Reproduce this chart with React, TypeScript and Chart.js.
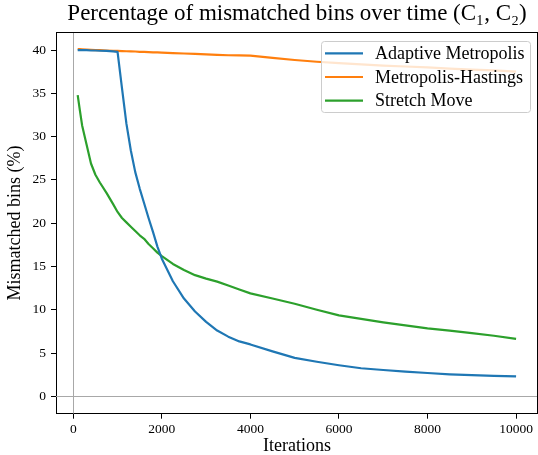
import React, { useEffect, useRef } from "react";
import { Chart, registerables } from "chart.js";

Chart.register(...registerables);

const SERIF = '"Liberation Serif", "Times New Roman", serif';

const titleText = "Percentage of mismatched bins over time (C\u2081, C\u2082)";
const xAxisTitle = "Iterations";
const yAxisTitle = "Mismatched bins (%)";

const iterations = [
  100, 150, 200, 300, 400, 500, 600, 750, 900, 1000,
  1100, 1200, 1300, 1400, 1500, 1600, 1700, 1800, 1900, 2000,
  2250, 2500, 2750, 3000, 3250, 3500, 3750, 4000,
  4500, 5000, 5500, 6000, 6500, 7000, 7500, 8000, 8500, 9000, 9500, 10000,
];

const adaptiveMetropolis = [
  40.0, 40.0, 40.0, 39.98, 39.95, 39.95, 39.92, 39.9, 39.85, 39.8,
  35.6, 31.5, 28.4, 25.9, 24.0, 22.3, 20.6, 19.0, 17.3, 15.9,
  13.3, 11.3, 9.8, 8.6, 7.6, 6.9, 6.35, 6.0,
  5.2, 4.45, 4.0, 3.6, 3.25, 3.05, 2.85, 2.7, 2.55, 2.45, 2.38, 2.3,
];

const metropolisHastings = [
  40.1, 40.1, 40.08, 40.05, 40.03, 40.0, 39.98, 39.95, 39.92, 39.9,
  39.88, 39.86, 39.85, 39.83, 39.8, 39.78, 39.76, 39.74, 39.72, 39.7,
  39.65, 39.6, 39.55, 39.5, 39.45, 39.4, 39.38, 39.35,
  39.1, 38.85, 38.65, 38.5, 38.35, 38.2, 38.1, 38.0, 37.85, 37.75, 37.65, 37.5,
];

const stretchMove = [
  34.8, 33.0, 31.3, 29.1, 26.9, 25.6, 24.7, 23.5, 22.2, 21.3,
  20.6, 20.1, 19.6, 19.1, 18.6, 18.2, 17.6, 17.1, 16.6, 16.2,
  15.3, 14.6, 14.0, 13.6, 13.25, 12.8, 12.35, 11.9,
  11.3, 10.7, 10.0, 9.35, 8.95, 8.55, 8.2, 7.85, 7.6, 7.3, 7.0, 6.65,
];

const seriesLabels = ["Adaptive Metropolis", "Metropolis-Hastings", "Stretch Move"];
const seriesColors = ["#1f77b4", "#ff7f0e", "#2ca02c"];

const xTicks = [0, 2000, 4000, 6000, 8000, 10000];
const yTicks = [0, 5, 10, 15, 20, 25, 30, 35, 40];

const X_MIN = -390;
const X_MAX = 10495;
const Y_MIN = -2.0;
const Y_MAX = 42.05;

const framePlugin = {
  id: "frame",
  beforeDatasetsDraw(chart: any) {
    const { ctx, chartArea, scales } = chart;
    ctx.save();
    ctx.beginPath();
    ctx.rect(chartArea.left, chartArea.top, chartArea.right - chartArea.left, chartArea.bottom - chartArea.top);
    ctx.clip();
    ctx.strokeStyle = "#a8a8a8";
    ctx.lineWidth = 1;
    const x0 = Math.round(scales.x.getPixelForValue(0)) + 0.5;
    const y0 = Math.round(scales.y.getPixelForValue(0)) + 0.5;
    ctx.beginPath();
    ctx.moveTo(x0, chartArea.top);
    ctx.lineTo(x0, chartArea.bottom);
    ctx.moveTo(chartArea.left, y0);
    ctx.lineTo(chartArea.right, y0);
    ctx.stroke();
    ctx.restore();
  },
  afterDatasetsDraw(chart: any) {
    const { ctx, chartArea } = chart;
    ctx.save();
    ctx.strokeStyle = "#000";
    ctx.lineWidth = 1;
    const top = Math.round(chartArea.top) + 0.5;
    const right = Math.round(chartArea.right) - 0.5;
    ctx.beginPath();
    ctx.moveTo(chartArea.left, top);
    ctx.lineTo(chartArea.right, top);
    ctx.moveTo(right, chartArea.top);
    ctx.lineTo(right, chartArea.bottom);
    ctx.stroke();
    ctx.restore();
  },
};

const legendPlugin = {
  id: "boxLegend",
  afterDraw(chart: any) {
    const { ctx } = chart;
    ctx.save();
    const bx = 321.5, by = 41.5, bw = 209, bh = 71;
    ctx.beginPath();
    ctx.roundRect(bx, by, bw, bh, 3);
    ctx.fillStyle = "rgba(255,255,255,0.8)";
    ctx.fill();
    ctx.strokeStyle = "#cccccc";
    ctx.lineWidth = 1;
    ctx.stroke();
    chart.data.datasets.forEach((ds: any, i: number) => {
      const y = 53.3 + i * 23.7;
      ctx.strokeStyle = ds.borderColor;
      ctx.lineWidth = 2.2;
      ctx.beginPath();
      ctx.moveTo(325, y);
      ctx.lineTo(363, y);
      ctx.stroke();
      ctx.fillStyle = "#000";
      ctx.font = `18px ${SERIF}`;
      ctx.textBaseline = "middle";
      ctx.textAlign = "left";
      ctx.fillText(ds.label, 375, y + 1);
    });
    ctx.restore();
  },
};

export default function App() {
  const ref = useRef<HTMLCanvasElement>(null);

  useEffect(() => {
    const canvas = ref.current;
    if (!canvas) return;
    const values = [adaptiveMetropolis, metropolisHastings, stretchMove];
    const datasets = values.map((vals, i) => ({
      label: seriesLabels[i],
      data: iterations.map((x, j) => ({ x, y: vals[j] })),
      borderColor: seriesColors[i],
      backgroundColor: seriesColors[i],
      borderWidth: 2.2,
      pointRadius: 0,
      pointHoverRadius: 0,
      tension: 0,
      fill: false,
      borderJoinStyle: "round" as const,
    }));

    const tickFont = { family: SERIF, size: 13.5 };
    const axisTitleFont = { family: SERIF, size: 18, lineHeight: 1 };

    const chart = new Chart(canvas, {
      type: "line",
      data: { datasets },
      options: {
        animation: false,
        responsive: false,
        maintainAspectRatio: false,
        events: [],
        layout: { padding: { left: 0, right: 0, top: 0, bottom: 0 } },
        plugins: {
          legend: { display: false },
          tooltip: { enabled: false },
          title: {
            display: true,
            text: titleText,
            fullSize: false,
            color: "#000",
            font: { family: SERIF, size: 23, weight: "normal", lineHeight: 1.2 },
            padding: { top: 0, bottom: 4.7 },
          },
        },
        scales: {
          x: {
            type: "linear",
            min: X_MIN,
            max: X_MAX,
            afterBuildTicks: (s: any) => {
              s.ticks = xTicks.map((v) => ({ value: v }));
            },
            afterFit: (s: any) => {
              s.height = 41.3;
            },
            ticks: {
              color: "#000",
              font: tickFont,
              padding: 3,
              maxRotation: 0,
              autoSkip: false,
              callback: (v: any) => String(v),
            },
            grid: {
              drawOnChartArea: false,
              drawTicks: true,
              tickLength: 5,
              color: "#000",
              lineWidth: 1,
            },
            border: { display: true, color: "#000", width: 1 },
            title: {
              display: true,
              text: xAxisTitle,
              color: "#000",
              font: axisTitleFont,
              padding: { top: 0, bottom: 0 },
            },
          },
          y: {
            type: "linear",
            min: Y_MIN,
            max: Y_MAX,
            afterBuildTicks: (s: any) => {
              s.ticks = yTicks.map((v) => ({ value: v }));
            },
            afterFit: (s: any) => {
              s.width = 56;
            },
            ticks: {
              color: "#000",
              font: tickFont,
              padding: 5,
              callback: (v: any) => String(v),
            },
            grid: {
              drawOnChartArea: false,
              drawTicks: true,
              tickLength: 5,
              color: "#000",
              lineWidth: 1,
            },
            border: { display: true, color: "#000", width: 1 },
            title: {
              display: true,
              text: yAxisTitle,
              color: "#000",
              font: axisTitleFont,
              padding: { top: 6.5, bottom: 0 },
            },
          },
        },
      },
      plugins: [framePlugin, legendPlugin],
    } as any);

    return () => chart.destroy();
  }, []);

  return (
    <div style={{ position: "absolute", left: 0, top: 0, width: 538, height: 455, background: "#fff" }}>
      <canvas ref={ref} width={538} height={455} style={{ width: 538, height: 455, display: "block" }} />
    </div>
  );
}
